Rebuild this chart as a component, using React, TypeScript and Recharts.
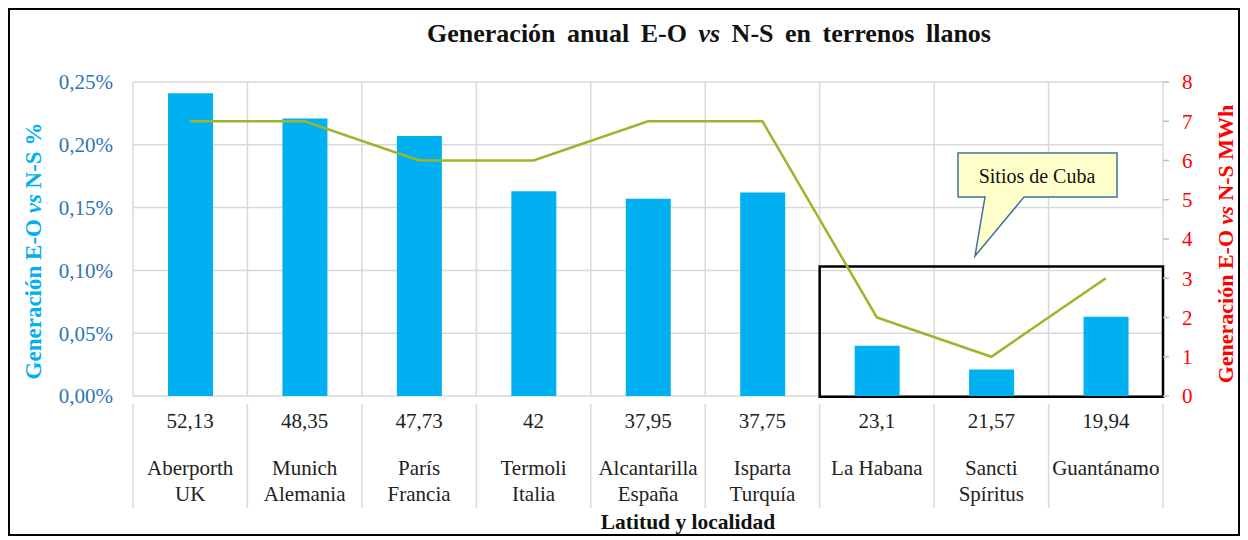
import { ComposedChart, Bar, Line, XAxis, YAxis, CartesianGrid, ReferenceArea, Label } from 'recharts';

const latitudes = ['52,13', '48,35', '47,73', '42', '37,95', '37,75', '23,1', '21,57', '19,94'];
const places = ['Aberporth', 'Munich', 'París', 'Termoli', 'Alcantarilla', 'Isparta', 'La Habana', 'Sancti', 'Guantánamo'];
const countries = ['UK', 'Alemania', 'Francia', 'Italia', 'España', 'Turquía', '', 'Spíritus', ''];
const genPct = [0.241, 0.221, 0.207, 0.163, 0.157, 0.162, 0.04, 0.021, 0.063];
const genMWh = [7, 7, 6, 6, 7, 7, 2, 1, 3];
const pctTicks = [0, 0.05, 0.1, 0.15, 0.2, 0.25];
const mwhTicks = [0, 1, 2, 3, 4, 5, 6, 7, 8];

const data = latitudes.map((lat, i) => ({
  lat,
  place: places[i],
  country: countries[i],
  pct: genPct[i],
  mwh: genMWh[i],
}));

const W = 1228;
const H = 524;
const LEFT_W = 123;
const RIGHT_W = 75;
const BAND = (W - LEFT_W - RIGHT_W) / latitudes.length;
const FONT = '"Liberation Serif", "Times New Roman", serif';
const GRID = '#d9d9d9';

const XTick = (props: any) => {
  const { x, y, payload, index } = props;
  const d = data[index];
  return (
    <g>
      <line x1={x - BAND / 2} y1={y} x2={x - BAND / 2} y2={y + 104} stroke={GRID} strokeWidth={1.5} />
      {index === data.length - 1 && (
        <line x1={x + BAND / 2} y1={y} x2={x + BAND / 2} y2={y + 104} stroke={GRID} strokeWidth={1.5} />
      )}
      <text x={x} y={y + 24} textAnchor="middle" fontSize={21} fill="#222">{payload.value}</text>
      <text x={x} y={y + 71} textAnchor="middle" fontSize={21} fill="#222">{d.place}</text>
      {d.country && (
        <text x={x} y={y + 97} textAnchor="middle" fontSize={21} fill="#222">{d.country}</text>
      )}
    </g>
  );
};

const AxisTitle = ({ x, cy, color, unit, size }: any) => (
  <text
    x={x}
    y={cy}
    transform={`rotate(-90 ${x} ${cy})`}
    textAnchor="middle"
    fontSize={size}
    fontWeight="bold"
    fill={color}
  >
    <tspan>Generación E-O </tspan>
    <tspan fontStyle="italic">vs</tspan>
    <tspan> N-S {unit}</tspan>
  </text>
);

const App = () => {
  return (
    <div
      style={{
        position: 'relative',
        width: W + 4,
        height: H + 4,
        border: '2px solid #000',
        boxSizing: 'border-box',
        fontFamily: FONT,
        background: '#fff',
      }}
    >
      <ComposedChart width={W} height={H} data={data} margin={{ top: 72, right: 0, bottom: 0, left: 0 }} style={{ fontFamily: FONT }}>
        <CartesianGrid
          yAxisId="left"
          stroke={GRID}
          strokeWidth={1.5}
          verticalCoordinatesGenerator={({ offset }: any) =>
            [...latitudes, ''].map((_, i) => offset.left + (i * offset.width) / latitudes.length)
          }
        />
        <XAxis
          dataKey="lat"
          height={138}
          interval={0}
          tickLine={false}
          axisLine={false}
          tick={<XTick />}
        />
        <YAxis
          yAxisId="left"
          width={LEFT_W}
          domain={[0, 0.25]}
          ticks={pctTicks}
          axisLine={false}
          tickLine={false}
          tickSize={0}
          tickMargin={20}
          tick={{ fill: '#2E75B6', fontSize: 21 }}
          tickFormatter={(v: number) => v.toFixed(2).replace('.', ',') + '%'}
        >
          <Label content={() => <AxisTitle x={31} cy={241} size={23} color="#00B0F0" unit="%" />} />
        </YAxis>
        <YAxis
          yAxisId="right"
          orientation="right"
          width={RIGHT_W}
          domain={[0, 8]}
          ticks={mwhTicks}
          axisLine={false}
          tickLine={{ stroke: '#bfbfbf', strokeWidth: 1.5 }}
          tickSize={6}
          tickMargin={13}
          tick={{ fill: '#FF0000', fontSize: 21, textAnchor: 'start' }}
        >
          <Label content={() => <AxisTitle x={1223} cy={234} size={22} color="#FF0000" unit="MWh" />} />
        </YAxis>
        <Bar yAxisId="left" dataKey="pct" fill="#00B0F0" barSize={45} isAnimationActive={false} />
        <Line
          yAxisId="right"
          type="linear"
          dataKey="mwh"
          stroke="#9DB52A"
          strokeWidth={2.5}
          dot={false}
          activeDot={false}
          isAnimationActive={false}
        />
        <ReferenceArea
          yAxisId="right"
          x1="23,1"
          x2="19,94"
          y1={-0.02}
          y2={3.3}
          fill="none"
          fillOpacity={0}
          stroke="#000"
          strokeWidth={2.5}
          ifOverflow="visible"
        />
      </ComposedChart>
      <svg width={W} height={H} style={{ position: 'absolute', left: 0, top: 0, pointerEvents: 'none' }}>
        <text x={699} y={32} textAnchor="middle" fontSize={26} fontWeight="bold" fill="#111" fontFamily={FONT} wordSpacing={5}>
          <tspan>Generación anual E-O </tspan>
          <tspan fontStyle="italic">vs</tspan>
          <tspan> N-S en terrenos llanos</tspan>
        </text>
        <text x={678} y={519} textAnchor="middle" fontSize={21.5} fontWeight="bold" fill="#111" fontFamily={FONT}>
          Latitud y localidad
        </text>
        <path
          d="M948 143 H1107 V187 H1014 L965 246 L975 187 H948 Z"
          fill="#FFFFCC"
          stroke="#41719C"
          strokeWidth={1.5}
        />
        <text x={1027} y={173} textAnchor="middle" fontSize={20} fill="#111" fontFamily={FONT}>
          Sitios de Cuba
        </text>
      </svg>
    </div>
  );
};

export default App;
